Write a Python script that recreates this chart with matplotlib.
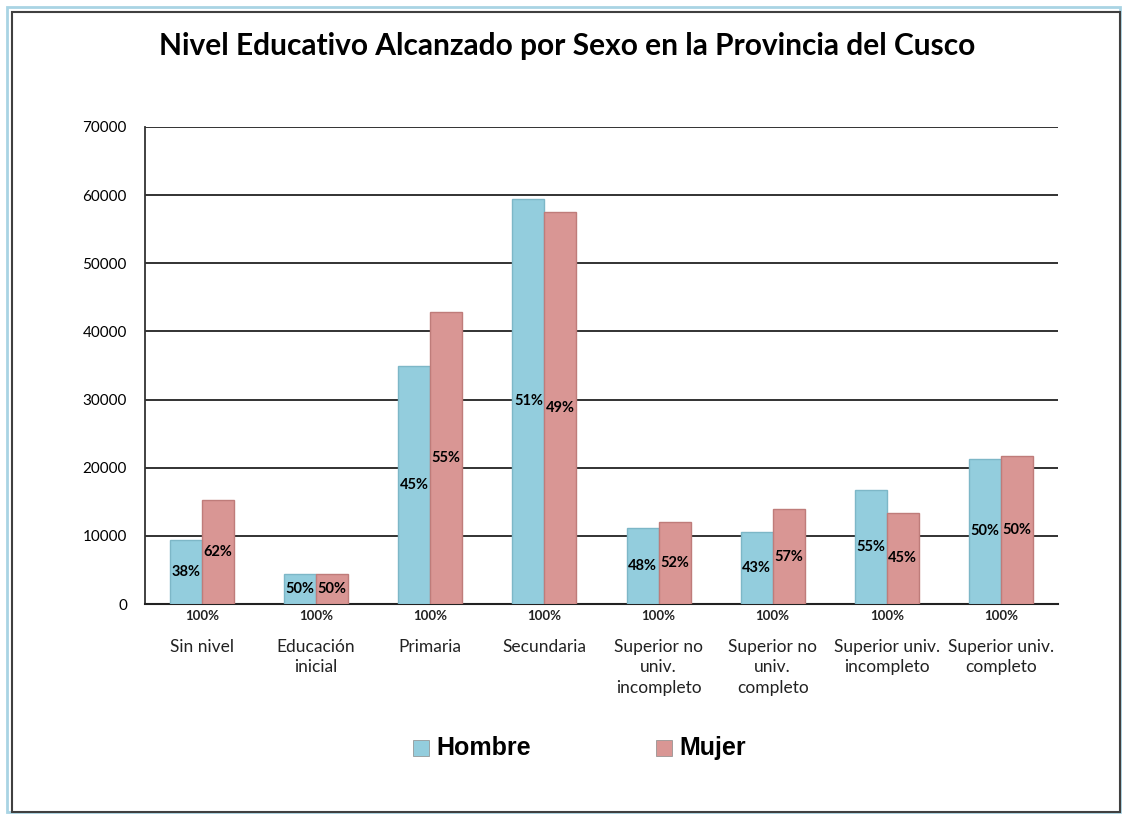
import numpy as np
import matplotlib
matplotlib.use("Agg")
import matplotlib.pyplot as plt
from matplotlib.patches import Rectangle

categorias = ["Sin nivel", "Educación\ninicial", "Primaria", "Secundaria",
              "Superior no\nuniv.\nincompleto", "Superior no\nuniv.\ncompleto",
              "Superior univ.\nincompleto", "Superior univ.\ncompleto"]
hombre = [9400, 4400, 34900, 59500, 11100, 10500, 16800, 21300]
mujer = [15200, 4400, 42800, 57500, 12000, 13900, 13400, 21700]
pct_hombre = ["38%", "50%", "45%", "51%", "48%", "43%", "55%", "50%"]
pct_mujer = ["62%", "50%", "55%", "49%", "52%", "57%", "45%", "50%"]
pct_total = ["100%"] * 8
yticks = [0, 10000, 20000, 30000, 40000, 50000, 60000, 70000]

c_h = "#93CDDD"
c_m = "#D99694"

fig = plt.figure(figsize=(11.23, 8.17), dpi=100)
W, H = 1123, 817

# chart borders
fig.patches.append(Rectangle((7 / W, 5 / H), 1113 / W, 805 / H, transform=fig.transFigure,
                             fill=False, edgecolor="#A9D4E4", lw=2))
fig.patches.append(Rectangle((12 / W, 5 / H), 1108 / W, 800 / H, transform=fig.transFigure,
                             fill=False, edgecolor="#404040", lw=1.5))

ax = fig.add_axes([145 / W, (H - 604) / H, (1058 - 145) / W, (604 - 127) / H])
x = np.arange(len(categorias))
bw = 0.28
ax.bar(x - bw / 2, hombre, bw, color=c_h, edgecolor="#7DB7C7", lw=1, zorder=3)
ax.bar(x + bw / 2, mujer, bw, color=c_m, edgecolor="#BF7C7A", lw=1, zorder=3)

for i in range(len(categorias)):
    ax.text(x[i] - bw / 2, hombre[i] / 2, pct_hombre[i], ha="center", va="center",
            fontsize=10.5, family="Lato", fontweight="bold", zorder=4)
    ax.text(x[i] + bw / 2, mujer[i] / 2, pct_mujer[i], ha="center", va="center",
            fontsize=10.5, family="Lato", fontweight="bold", zorder=4)
    ax.text(x[i], -1800, pct_total[i], ha="center", va="center",
            fontsize=9.5, family="Lato", fontweight="bold", color="#222222")

ax.set_xlim(-0.5, len(categorias) - 0.5)
ax.set_ylim(0, 70000)
ax.set_yticks(yticks)
ax.set_yticklabels([str(v) for v in yticks], family="Lato", fontsize=11)
ax.yaxis.grid(True, color="#222222", lw=1.3, zorder=0)
ax.set_axisbelow(True)
ax.tick_params(axis="y", length=0, pad=13)
ax.set_xticks(x)
ax.set_xticklabels(categorias, family="Lato", fontsize=12.5, color="#222222",
                   linespacing=1.35)
ax.tick_params(axis="x", length=0, pad=25)
for s in ["top", "right"]:
    ax.spines[s].set_visible(False)
ax.spines["left"].set_color("#333333")
ax.spines["left"].set_linewidth(1.3)
ax.spines["bottom"].set_color("#222222")
ax.spines["bottom"].set_linewidth(1.5)

fig.text(567 / W, (H - 46) / H, "Nivel Educativo Alcanzado por Sexo en la Provincia del Cusco",
         ha="center", va="center", fontsize=21.5, fontweight="bold", family="Lato")

# legend
for lx, col, lab in [(413, c_h, "Hombre"), (656, c_m, "Mujer")]:
    fig.patches.append(Rectangle((lx / W, (H - 756) / H), 16 / W, 16 / H,
                                 transform=fig.transFigure, facecolor=col,
                                 edgecolor="#888888", lw=0.5))
    fig.text((lx + 23) / W, (H - 748) / H, lab, ha="left", va="center",
             fontsize=18, fontweight="bold", family="Liberation Sans")

fig.savefig("out.png", dpi=100)
